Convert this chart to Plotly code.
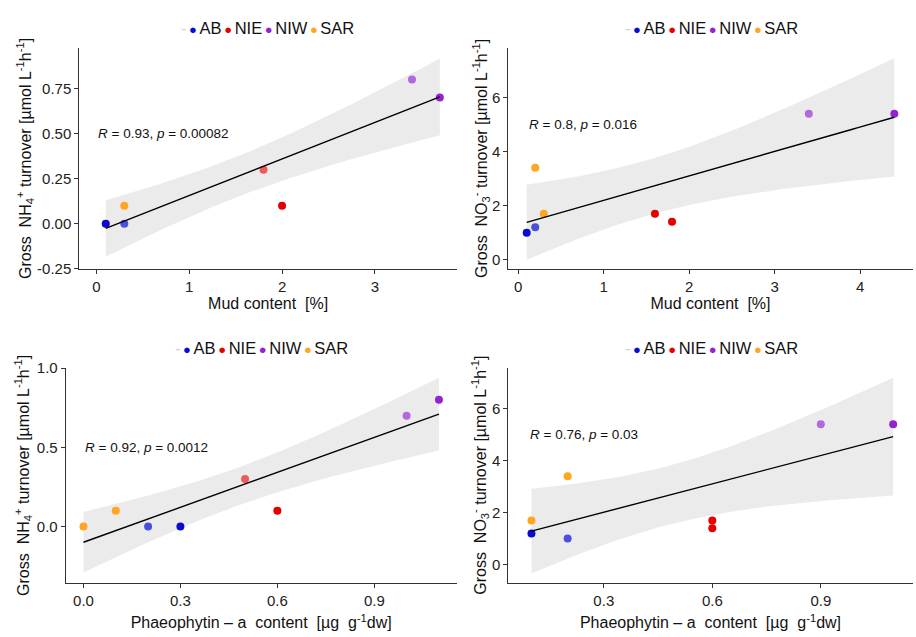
import numpy as np
import plotly.graph_objects as go

# ---------------- data ----------------
groups = ["AB", "NIE", "NIW", "SAR"]

# Panel 1: mud content vs gross NH4+ turnover
p1_group = ["SAR", "AB", "AB", "SAR", "NIE", "NIE", "NIW", "NIW"]
p1_x = [0.1, 0.1, 0.3, 0.3, 1.8, 2.0, 3.4, 3.7]
p1_y = [0.0, 0.0, 0.0, 0.1, 0.3, 0.1, 0.8, 0.7]
p1_label = "<i>R</i> = 0.93, <i>p</i> = 0.00082"

# Panel 2: mud content vs gross NO3- turnover
p2_group = ["AB", "AB", "SAR", "SAR", "NIE", "NIE", "NIW", "NIW"]
p2_x = [0.1, 0.2, 0.2, 0.3, 1.6, 1.8, 3.4, 4.4]
p2_y = [1.0, 1.2, 3.4, 1.7, 1.7, 1.4, 5.4, 5.4]
p2_label = "<i>R</i> = 0.8, <i>p</i> = 0.016"

# Panel 3: phaeophytin-a vs gross NH4+ turnover
p3_group = ["SAR", "SAR", "AB", "AB", "NIE", "NIE", "NIW", "NIW"]
p3_x = [0.0, 0.1, 0.2, 0.3, 0.5, 0.6, 1.0, 1.1]
p3_y = [0.0, 0.1, 0.0, 0.0, 0.3, 0.1, 0.7, 0.8]
p3_label = "<i>R</i> = 0.92, <i>p</i> = 0.0012"

# Panel 4: phaeophytin-a vs gross NO3- turnover
p4_group = ["AB", "AB", "SAR", "SAR", "NIE", "NIE", "NIW", "NIW"]
p4_x = [0.1, 0.2, 0.1, 0.2, 0.6, 0.6, 0.9, 1.1]
p4_y = [1.2, 1.0, 1.7, 3.4, 1.7, 1.4, 5.4, 5.4]
p4_label = "<i>R</i> = 0.76, <i>p</i> = 0.03"

# axis ticks
p1_xticks = [0, 1, 2, 3]
p1_yticks = [-0.25, 0.0, 0.25, 0.5, 0.75]
p1_yticktext = ["-0.25", "0.00", "0.25", "0.50", "0.75"]
p2_xticks = [0, 1, 2, 3, 4]
p2_yticks = [0, 2, 4, 6]
p3_xticks = [0.0, 0.3, 0.6, 0.9]
p3_xticktext = ["0.0", "0.3", "0.6", "0.9"]
p3_yticks = [0.0, 0.5, 1.0]
p3_yticktext = ["0.0", "0.5", "1.0"]
p4_xticks = [0.3, 0.6, 0.9]
p4_xticktext = ["0.3", "0.6", "0.9"]
p4_yticks = [0, 2, 4, 6]

# ---------------- styles ----------------
FONT = "Liberation Sans, Arial, sans-serif"
dark_col = {"AB": "#0a0ad0", "NIE": "#e80000", "NIW": "#9422d0", "SAR": "#ffa520"}
light_col = {"AB": "#4a50dc", "NIE": "#ee5a5a", "NIW": "#b468dc", "SAR": "#ffa83a"}
# index of points drawn in the lighter tone, per panel
light_idx = {1: [2, 4, 6], 2: [1, 6], 3: [2, 4, 6], 4: [1, 6]}
T975_DF6 = 2.4469  # Student t 97.5% quantile for n-2 = 6 degrees of freedom

def fit_band(x, y, n_grid=80):
    x = np.asarray(x, float)
    y = np.asarray(y, float)
    n = len(x)
    b, a = np.polyfit(x, y, 1)
    xg = np.linspace(x.min(), x.max(), n_grid)
    yg = a + b * xg
    resid = y - (a + b * x)
    s = np.sqrt(np.sum(resid ** 2) / (n - 2))
    sxx = np.sum((x - x.mean()) ** 2)
    se = s * np.sqrt(1.0 / n + (xg - x.mean()) ** 2 / sxx)
    return xg, yg, yg - T975_DF6 * se, yg + T975_DF6 * se

fig = go.Figure()

panels = [
    (1, p1_group, p1_x, p1_y, "x", "y"),
    (2, p2_group, p2_x, p2_y, "x2", "y2"),
    (3, p3_group, p3_x, p3_y, "x3", "y3"),
    (4, p4_group, p4_x, p4_y, "x4", "y4"),
]

for pid, grp, xs, ys, xa, ya in panels:
    xg, yg, lo, hi = fit_band(xs, ys)
    fig.add_trace(go.Scatter(x=xg, y=lo, mode="lines", line=dict(width=0),
                             xaxis=xa, yaxis=ya, showlegend=False, hoverinfo="skip"))
    fig.add_trace(go.Scatter(x=xg, y=hi, mode="lines", line=dict(width=0),
                             fill="tonexty", fillcolor="#ebebeb",
                             xaxis=xa, yaxis=ya, showlegend=False, hoverinfo="skip"))
    cols = [light_col[g] if i in light_idx[pid] else dark_col[g] for i, g in enumerate(grp)]
    fig.add_trace(go.Scatter(x=xs, y=ys, mode="markers",
                             marker=dict(size=8, color=cols, line=dict(width=0)),
                             text=grp, xaxis=xa, yaxis=ya, showlegend=False))
    fig.add_trace(go.Scatter(x=xg, y=yg, mode="lines", line=dict(color="black", width=1.4),
                             xaxis=xa, yaxis=ya, showlegend=False, hoverinfo="skip"))

axis_common = dict(showline=True, linecolor="#333333", linewidth=1, ticks="outside",
                   ticklen=4, tickcolor="#333333", showgrid=False, zeroline=False,
                   tickfont=dict(family=FONT, size=15, color="#222222"))
title_font = dict(family=FONT, size=16, color="#111111")

nh4_title = ("Gross\u00a0 NH<sub>4</sub><sup>+</sup> turnover [µmol L<sup>-1</sup>h<sup>-1</sup>]")
no3_title = ("Gross\u00a0 NO<sub>3</sub><sup>-</sup> turnover [µmol L<sup>-1</sup>h<sup>-1</sup>]")
mud_title = "Mud content\u00a0 [%]"
pha_title = "Phaeophytin \u2013 a\u00a0 content\u00a0 [µg\u00a0 g<sup>-1</sup>dw]"

W, H = 916, 637
def dx(a, b):
    return [a / W, b / W]
def dy(top, bottom):
    return [1 - bottom / H, 1 - top / H]

fig.update_layout(
    width=W, height=H, margin=dict(l=0, r=0, t=0, b=0),
    paper_bgcolor="white", plot_bgcolor="white", showlegend=False,
    font=dict(family=FONT),
    xaxis=dict(axis_common, domain=dx(79.3, 457), anchor="y", range=[-0.185, 3.885],
               tickvals=p1_xticks, title=dict(text=mud_title, font=title_font, standoff=0)),
    yaxis=dict(axis_common, domain=dy(40, 267), anchor="x", range=[-0.25, 0.975],
               tickvals=p1_yticks, ticktext=p1_yticktext,
               title=dict(text=nh4_title, font=title_font, standoff=1)),
    xaxis2=dict(axis_common, domain=dx(508.3, 912.7), anchor="y2", range=[-0.115, 4.615],
                tickvals=p2_xticks, title=dict(text=mud_title, font=title_font, standoff=0)),
    yaxis2=dict(axis_common, domain=dy(40, 267), anchor="x2", range=[-0.34, 7.84],
                tickvals=p2_yticks, title=dict(text=no3_title, font=title_font, standoff=0)),
    xaxis3=dict(axis_common, domain=dx(65.7, 456.7), anchor="y3", range=[-0.055, 1.155],
                tickvals=p3_xticks, ticktext=p3_xticktext,
                title=dict(text=pha_title, font=title_font, standoff=9)),
    yaxis3=dict(axis_common, domain=dy(369, 589.3), anchor="x3", range=[-0.354, 1.0],
                tickvals=p3_yticks, ticktext=p3_yticktext,
                title=dict(text=nh4_title, font=title_font, standoff=3)),
    xaxis4=dict(axis_common, domain=dx(508.3, 912.7), anchor="y4", range=[0.036, 1.154],
                tickvals=p4_xticks, ticktext=p4_xticktext,
                title=dict(text=pha_title, font=title_font, standoff=9)),
    yaxis4=dict(axis_common, domain=dy(368.5, 589.3), anchor="x4", range=[-0.69, 7.57],
                tickvals=p4_yticks, title=dict(text=no3_title, font=title_font, standoff=1)),
)

# correlation labels
for lab, xr, yr, lx, ly in [(p1_label, "x", "y", 0.0, 0.5), (p2_label, "x2", "y2", 0.1, 5.0),
                            (p3_label, "x3", "y3", 0.0, 0.5), (p4_label, "x4", "y4", 0.09, 5.0)]:
    fig.add_annotation(text=lab, x=lx, y=ly, xref=xr, yref=yr, xanchor="left", yanchor="middle",
                       showarrow=False, font=dict(family=FONT, size=13.5, color="#111111"))

# group legends (one above each panel)
legend_html = "<span style='color:#d0d0d0'>-</span>" + "".join(
    "<span style='color:%s;font-size:13px'>\u2009\u25cf\u2009</span>%s" % (dark_col[g], g)
    for g in groups)
for lx, ly in [(267.5, 19.5), (711, 19.5), (261, 348.5), (711, 348.5)]:
    fig.add_annotation(text=legend_html, x=lx / W, y=1 - ly / H, xref="paper", yref="paper",
                       xanchor="center", yanchor="middle", showarrow=False,
                       font=dict(family=FONT, size=16.5, color="#111111"))

fig.write_html("out.html", config={"displayModeBar": False},
               post_script="document.body.style.margin='0';")
